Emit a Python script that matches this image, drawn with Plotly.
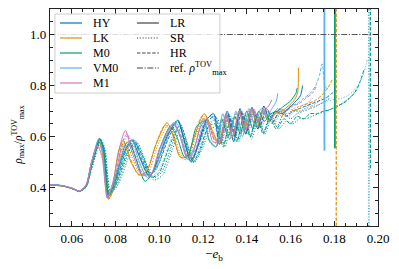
import plotly.graph_objects as go

# ---------------- data ----------------
EOS_NAMES = ["HY", "LK", "M0", "VM0", "M1"]
EOS_COLORS = ["#0173b2", "#de8f05", "#029e73", "#56b4e9", "#cc78bc"]
RES_NAMES = ["LR", "SR", "HR"]
REF_LABEL = "ref. <i>ρ</i><sup>TOV</sup><sub>max</sub>"
REF_RHO = 1.0
X_RANGE = [0.05, 0.20]
Y_RANGE = [0.25, 1.1]

# ---- HY ----
HY_LR_X = [0.050,0.056,0.0605,0.0635,0.0665,0.069,0.0727,0.0742,0.0765,0.079,0.0835,0.0875,0.0905,0.0955,0.099,0.1035,0.1085,0.1115,0.1145,0.1175,0.1215,0.1248,0.1275,0.1310,0.1340,0.1369,0.1395,0.1424,0.1450,0.1478,0.1505,0.153,0.156,0.159,0.162,0.1645,0.1655]
HY_LR_Y = [0.412,0.407,0.396,0.386,0.41,0.50,0.592,0.55,0.365,0.42,0.53,0.588,0.53,0.445,0.50,0.60,0.665,0.58,0.50,0.56,0.665,0.69,0.57,0.70,0.58,0.71,0.61,0.715,0.63,0.72,0.66,0.70,0.69,0.71,0.735,0.76,0.80]
HY_HR_X = [0.050,0.056,0.0605,0.0635,0.0665,0.069,0.0728,0.0746,0.077,0.080,0.085,0.0885,0.0915,0.096,0.0995,0.104,0.1085,0.1115,0.1145,0.118,0.122,0.1255,0.128,0.1315,0.1345,0.1375,0.140,0.143,0.146,0.149,0.152,0.155,0.158,0.161,0.164,0.167,0.170,0.173,0.176,0.179,0.181]
HY_HR_Y = [0.411,0.406,0.396,0.386,0.405,0.49,0.59,0.54,0.37,0.42,0.55,0.585,0.52,0.45,0.49,0.59,0.66,0.58,0.51,0.57,0.66,0.68,0.58,0.69,0.60,0.70,0.62,0.70,0.64,0.71,0.66,0.70,0.68,0.70,0.71,0.72,0.73,0.74,0.75,0.77,0.78]
HY_SR_X = [0.050,0.056,0.0605,0.0635,0.0665,0.069,0.0732,0.075,0.0775,0.0805,0.086,0.0893,0.0925,0.0975,0.101,0.1055,0.1095,0.1125,0.1155,0.119,0.123,0.1265,0.1295,0.1328,0.1358,0.1388,0.1418,0.1448,0.1478,0.1508,0.1538,0.157,0.160,0.163,0.166,0.169,0.172,0.175,0.178]
HY_SR_Y = [0.411,0.406,0.395,0.385,0.402,0.48,0.59,0.55,0.38,0.41,0.54,0.58,0.52,0.44,0.46,0.56,0.65,0.58,0.50,0.55,0.65,0.67,0.57,0.68,0.59,0.69,0.60,0.69,0.62,0.69,0.64,0.69,0.67,0.69,0.70,0.71,0.72,0.735,0.75]

# ---- LK ----
LK_LR_X = [0.050,0.056,0.0605,0.0635,0.0665,0.069,0.0725,0.0745,0.0768,0.0785,0.0815,0.0835,0.087,0.091,0.0945,0.0985,0.1035,0.1065,0.1095,0.1125,0.1160,0.1205,0.1245,0.1275,0.1305,0.1335,0.1365,0.1390,0.1420,0.1448,0.1475,0.150,0.153,0.156,0.159,0.1615,0.1632,0.1636]
LK_LR_Y = [0.411,0.406,0.395,0.385,0.405,0.49,0.59,0.50,0.355,0.40,0.55,0.585,0.50,0.45,0.47,0.57,0.655,0.60,0.52,0.52,0.60,0.69,0.62,0.57,0.68,0.60,0.70,0.63,0.71,0.64,0.71,0.66,0.69,0.70,0.72,0.74,0.77,0.87]
LK_HR_X = [0.050,0.056,0.0605,0.0635,0.0665,0.069,0.0724,0.0744,0.0768,0.079,0.082,0.0838,0.0865,0.0905,0.094,0.098,0.1025,0.1055,0.109,0.112,0.1155,0.1195,0.1232,0.1262,0.1292,0.1322,0.135,0.138,0.141,0.144,0.147,0.150,0.153,0.156,0.159,0.162,0.165,0.168,0.171,0.174,0.177,0.1795]
LK_HR_Y = [0.411,0.406,0.395,0.385,0.405,0.49,0.592,0.52,0.355,0.39,0.53,0.58,0.52,0.45,0.46,0.56,0.645,0.62,0.53,0.51,0.58,0.68,0.63,0.57,0.67,0.59,0.69,0.62,0.70,0.64,0.70,0.66,0.70,0.68,0.71,0.70,0.72,0.73,0.74,0.76,0.79,0.83]
LK_SR_X = [0.050,0.056,0.0605,0.0635,0.0665,0.069,0.0726,0.0745,0.077,0.0795,0.0828,0.0848,0.0875,0.0915,0.095,0.099,0.104,0.107,0.1105,0.1135,0.117,0.121,0.1245,0.1275,0.1305,0.1335,0.1365,0.1395,0.1425,0.1455,0.1485,0.1515,0.155,0.158,0.161,0.164,0.167,0.170,0.173,0.176]
LK_SR_Y = [0.411,0.406,0.395,0.385,0.405,0.49,0.59,0.52,0.36,0.40,0.54,0.58,0.52,0.45,0.46,0.56,0.645,0.60,0.52,0.52,0.61,0.68,0.61,0.57,0.67,0.59,0.69,0.61,0.70,0.63,0.70,0.65,0.69,0.68,0.70,0.70,0.71,0.72,0.74,0.76]

# ---- M0 ----
M0_LR_X = [0.050,0.056,0.0605,0.0635,0.0665,0.069,0.0728,0.0745,0.0768,0.080,0.0845,0.0862,0.089,0.0935,0.097,0.1005,0.105,0.108,0.1115,0.1135,0.117,0.1205,0.123,0.126,0.1285,0.1315,0.1345,0.137,0.140,0.1428,0.1455,0.148,0.151,0.154,0.157,0.160,0.1625,0.163]
M0_LR_Y = [0.412,0.407,0.396,0.386,0.405,0.49,0.59,0.55,0.37,0.43,0.57,0.58,0.52,0.425,0.46,0.56,0.64,0.60,0.52,0.53,0.64,0.66,0.58,0.56,0.67,0.60,0.68,0.61,0.70,0.63,0.70,0.66,0.69,0.70,0.72,0.74,0.77,0.79]
M0_HR_X = [0.050,0.056,0.0605,0.0635,0.0665,0.069,0.073,0.0748,0.0772,0.080,0.0855,0.0888,0.092,0.0965,0.100,0.1045,0.109,0.112,0.1155,0.1185,0.1225,0.126,0.1292,0.1325,0.1355,0.1385,0.1415,0.1445,0.1475,0.1505,0.1535,0.157,0.160,0.163,0.166,0.169,0.172,0.175,0.178,0.181,0.184,0.187,0.190,0.192,0.1935]
M0_HR_Y = [0.412,0.407,0.396,0.386,0.403,0.48,0.585,0.55,0.375,0.41,0.54,0.575,0.53,0.44,0.46,0.56,0.64,0.58,0.50,0.55,0.64,0.65,0.56,0.67,0.58,0.68,0.60,0.68,0.61,0.67,0.63,0.67,0.65,0.68,0.67,0.69,0.69,0.70,0.705,0.72,0.73,0.75,0.78,0.82,0.86]
M0_SR_X = [0.050,0.056,0.0605,0.0635,0.0665,0.069,0.0734,0.0752,0.0778,0.081,0.0865,0.090,0.093,0.0975,0.1015,0.106,0.110,0.113,0.116,0.1195,0.1235,0.127,0.130,0.1332,0.1362,0.1392,0.1422,0.1452,0.1482,0.1512,0.1545,0.158,0.161,0.164,0.167,0.170,0.173,0.176,0.179,0.182,0.185,0.188,0.1905]
M0_SR_Y = [0.412,0.407,0.396,0.386,0.402,0.47,0.585,0.55,0.38,0.41,0.53,0.575,0.52,0.43,0.45,0.55,0.635,0.57,0.50,0.55,0.63,0.64,0.56,0.66,0.58,0.67,0.59,0.67,0.61,0.67,0.63,0.66,0.65,0.67,0.67,0.68,0.69,0.70,0.71,0.72,0.74,0.76,0.79]

# ---- VM0 ----
VM0_LR_X = [0.050,0.056,0.0605,0.0635,0.0665,0.069,0.0722,0.074,0.0762,0.079,0.084,0.0875,0.0905,0.0945,0.098,0.102,0.1065,0.110,0.113,0.1165,0.120,0.1228,0.126,0.129,0.132,0.135,0.138,0.141,0.1438,0.1465,0.149,0.1515,0.1535,0.1542]
VM0_LR_Y = [0.413,0.408,0.397,0.387,0.41,0.50,0.59,0.55,0.36,0.42,0.55,0.585,0.51,0.44,0.47,0.58,0.65,0.59,0.51,0.57,0.67,0.59,0.56,0.69,0.59,0.70,0.60,0.71,0.64,0.71,0.68,0.71,0.74,0.77]
VM0_HR_X = [0.050,0.056,0.0605,0.0635,0.0665,0.069,0.0726,0.0744,0.0767,0.0795,0.0845,0.088,0.091,0.095,0.0985,0.103,0.1075,0.1105,0.1135,0.117,0.121,0.1245,0.1272,0.1305,0.1335,0.1365,0.1393,0.1422,0.145,0.148,0.151,0.154,0.157,0.160,0.163,0.166,0.169,0.1715,0.1732,0.1745,0.1758,0.1775]
VM0_HR_Y = [0.412,0.407,0.396,0.386,0.405,0.49,0.595,0.54,0.36,0.41,0.545,0.59,0.52,0.445,0.47,0.58,0.66,0.59,0.51,0.56,0.665,0.68,0.58,0.69,0.60,0.70,0.61,0.71,0.64,0.71,0.67,0.71,0.70,0.72,0.73,0.75,0.77,0.80,0.84,0.885,0.80,0.78]
VM0_SR_X = [0.050,0.056,0.0605,0.0635,0.0665,0.069,0.073,0.0748,0.0773,0.080,0.0855,0.089,0.092,0.0965,0.100,0.1045,0.1088,0.1118,0.1148,0.1182,0.1222,0.1258,0.1285,0.1318,0.1348,0.1378,0.1405,0.1435,0.1465,0.1495,0.1525,0.156,0.159,0.162,0.165,0.168,0.171,0.174,0.177,0.180,0.183,0.186,0.189,0.1915,0.1935,0.195]
VM0_SR_Y = [0.413,0.408,0.397,0.387,0.404,0.48,0.59,0.55,0.37,0.41,0.55,0.585,0.52,0.445,0.47,0.57,0.655,0.58,0.50,0.56,0.66,0.68,0.58,0.69,0.60,0.70,0.61,0.70,0.63,0.70,0.65,0.70,0.68,0.70,0.70,0.72,0.72,0.73,0.74,0.745,0.75,0.76,0.78,0.81,0.85,0.90]

# ---- M1 ----
M1_LR_X = [0.050,0.056,0.0605,0.0635,0.0665,0.069,0.0718,0.0738,0.0762,0.079,0.0825,0.0845,0.0875,0.092,0.096,0.100,0.1065,0.1095,0.1125,0.115,0.1185,0.1215,0.1245,0.1275,0.1305,0.1335,0.1365,0.1395,0.1422,0.145,0.1475,0.150,0.1515]
M1_LR_Y = [0.412,0.407,0.397,0.387,0.41,0.50,0.565,0.52,0.36,0.43,0.58,0.625,0.54,0.45,0.45,0.55,0.655,0.60,0.52,0.53,0.63,0.67,0.58,0.58,0.69,0.60,0.70,0.62,0.71,0.66,0.70,0.72,0.745]
M1_HR_X = [0.050,0.056,0.0605,0.0635,0.0665,0.069,0.072,0.074,0.0765,0.0795,0.083,0.0852,0.088,0.0925,0.0965,0.1005,0.1065,0.1098,0.1128,0.1155,0.119,0.122,0.125,0.128,0.131,0.134,0.137,0.140,0.143,0.146,0.149,0.152,0.155,0.158,0.161,0.164,0.167,0.170,0.172]
M1_HR_Y = [0.412,0.407,0.397,0.387,0.408,0.50,0.575,0.54,0.37,0.43,0.575,0.61,0.55,0.455,0.455,0.54,0.65,0.60,0.52,0.52,0.62,0.665,0.59,0.58,0.68,0.61,0.70,0.63,0.71,0.66,0.71,0.68,0.71,0.70,0.72,0.73,0.75,0.77,0.80]
M1_SR_X = [0.050,0.056,0.0605,0.0635,0.0665,0.069,0.0722,0.0742,0.0767,0.0795,0.0835,0.0856,0.0885,0.093,0.097,0.101,0.1068,0.110,0.113,0.1158,0.1195,0.1225,0.1255,0.1285,0.1315,0.1345,0.1375,0.1405,0.1435,0.1465,0.1495,0.1525,0.1555,0.1585,0.1615,0.1645,0.1675,0.170]
M1_SR_Y = [0.412,0.407,0.397,0.387,0.407,0.49,0.575,0.54,0.37,0.43,0.57,0.605,0.55,0.46,0.46,0.54,0.645,0.60,0.52,0.52,0.62,0.66,0.59,0.58,0.67,0.61,0.69,0.63,0.70,0.65,0.70,0.67,0.70,0.69,0.71,0.72,0.73,0.75]

# ---- collapse (vertical) segments ----
COLLAPSE_EOS = ["VM0", "M0", "LK", "M0", "VM0"]
COLLAPSE_RES = ["LR", "LR", "HR", "HR", "SR"]
COLLAPSE_EB = [0.1755, 0.1803, 0.1809, 0.1965, 0.1958]
COLLAPSE_RHO_LO = [0.545, 0.555, 0.25, 0.476, 0.25]
COLLAPSE_RHO_HI = [1.2, 1.2, 1.2, 1.2, 1.2]

CURVES = {
    ("HY", "LR"): (HY_LR_X, HY_LR_Y), ("HY", "SR"): (HY_SR_X, HY_SR_Y), ("HY", "HR"): (HY_HR_X, HY_HR_Y),
    ("LK", "LR"): (LK_LR_X, LK_LR_Y), ("LK", "SR"): (LK_SR_X, LK_SR_Y), ("LK", "HR"): (LK_HR_X, LK_HR_Y),
    ("M0", "LR"): (M0_LR_X, M0_LR_Y), ("M0", "SR"): (M0_SR_X, M0_SR_Y), ("M0", "HR"): (M0_HR_X, M0_HR_Y),
    ("VM0", "LR"): (VM0_LR_X, VM0_LR_Y), ("VM0", "SR"): (VM0_SR_X, VM0_SR_Y), ("VM0", "HR"): (VM0_HR_X, VM0_HR_Y),
    ("M1", "LR"): (M1_LR_X, M1_LR_Y), ("M1", "SR"): (M1_SR_X, M1_SR_Y), ("M1", "HR"): (M1_HR_X, M1_HR_Y),
}

# ---------------- styles ----------------
DASH = {"LR": "solid", "SR": "1.2px,1.6px", "HR": "3.5px,1.6px"}
REF_DASH = "6px,1.6px,1.2px,1.6px"
COLOR = dict(zip(EOS_NAMES, EOS_COLORS))
FONT = "Liberation Serif, DejaVu Serif, serif"
STYLE_GRAY = "#444444"

fig = go.Figure()

for res in ["SR", "HR", "LR"]:
    for eos in EOS_NAMES:
        xs, ys = CURVES[(eos, res)]
        fig.add_trace(go.Scatter(
            x=xs, y=ys, mode="lines", name=f"{eos} {res}",
            line=dict(color=COLOR[eos], width=1.0, dash=DASH[res], shape="spline", smoothing=0.7),
            showlegend=False, hoverinfo="skip"))

for eos, res, eb, lo, hi in zip(COLLAPSE_EOS, COLLAPSE_RES, COLLAPSE_EB, COLLAPSE_RHO_LO, COLLAPSE_RHO_HI):
    fig.add_trace(go.Scatter(
        x=[eb, eb], y=[lo, hi], mode="lines", name=f"{eos} {res} collapse",
        line=dict(color=COLOR[eos], width=1.8 if res != "HR" else 1.2, dash=DASH[res]),
        showlegend=False, hoverinfo="skip"))

fig.add_trace(go.Scatter(
    x=X_RANGE, y=[REF_RHO, REF_RHO], mode="lines", name="ref",
    line=dict(color="#555555", width=1.0, dash=REF_DASH), showlegend=False, hoverinfo="skip"))

# ---------------- manual two-column legend ----------------
shapes = [dict(type="rect", xref="paper", yref="paper", x0=0.015, x1=0.518, y0=0.613, y1=0.977,
               fillcolor="rgba(255,255,255,0.8)", line=dict(color="#cccccc", width=1), layer="above")]
annotations = []
row_y = [0.9355, 0.8664, 0.7972, 0.7281, 0.659]
for i, eos in enumerate(EOS_NAMES):
    shapes.append(dict(type="line", xref="paper", yref="paper", x0=0.0305, x1=0.0976, y0=row_y[i], y1=row_y[i],
                       line=dict(color=COLOR[eos], width=1.2), layer="above"))
    annotations.append(dict(xref="paper", yref="paper", x=0.125, y=row_y[i], text=eos, showarrow=False,
                            xanchor="left", yanchor="middle", font=dict(family=FONT, size=12, color="black")))
style_labels = RES_NAMES + [REF_LABEL]
style_dash = [DASH[r] for r in RES_NAMES] + [REF_DASH]
for i, (lab, d) in enumerate(zip(style_labels, style_dash)):
    shapes.append(dict(type="line", xref="paper", yref="paper", x0=0.265, x1=0.332, y0=row_y[i], y1=row_y[i],
                       line=dict(color=STYLE_GRAY, width=1.2, dash=d), layer="above"))
    annotations.append(dict(xref="paper", yref="paper", x=0.360, y=row_y[i], text=lab, showarrow=False,
                            xanchor="left", yanchor="middle", font=dict(family=FONT, size=12, color="black")))

# y-axis label (rotated)
annotations.append(dict(xref="paper", yref="paper", x=-0.098, y=0.42, textangle=-90, showarrow=False,
                        text="<i>ρ</i><sub>max</sub>/<i>ρ</i><sup>TOV</sup><sub>max</sub>",
                        xanchor="center", yanchor="middle", font=dict(family=FONT, size=11.5, color="black")))

axis_common = dict(
    showline=True, linecolor="#222222", linewidth=1.1, mirror="allticks",
    ticks="inside", ticklen=4.5, tickwidth=0.9, tickcolor="#222222",
    showgrid=False, zeroline=False, automargin=False,
    tickfont=dict(family=FONT, size=13, color="black"),
)

# page body adds an 8px offset: the figure is sized so the plot area lands where the reference has it
fig.update_layout(
    width=391, height=261,
    margin=dict(l=42, r=21, t=1, b=43),
    paper_bgcolor="white", plot_bgcolor="white",
    template="none",
    showlegend=False,
    shapes=shapes, annotations=annotations,
    xaxis=dict(range=X_RANGE, tick0=0, dtick=0.02, tickformat=".2f",
               minor=dict(ticks="inside", dtick=0.005, ticklen=2.5, tickwidth=0.8, tickcolor="#222222"),
               title=dict(text="−<i>e</i><sub>b</sub>", font=dict(family=FONT, size=13, color="black"), standoff=4),
               **axis_common),
    yaxis=dict(range=Y_RANGE, tick0=0, dtick=0.2, tickformat=".1f",
               minor=dict(ticks="inside", dtick=0.05, ticklen=2.5, tickwidth=0.8, tickcolor="#222222"),
               **axis_common),
)

fig.write_html("out.html")
